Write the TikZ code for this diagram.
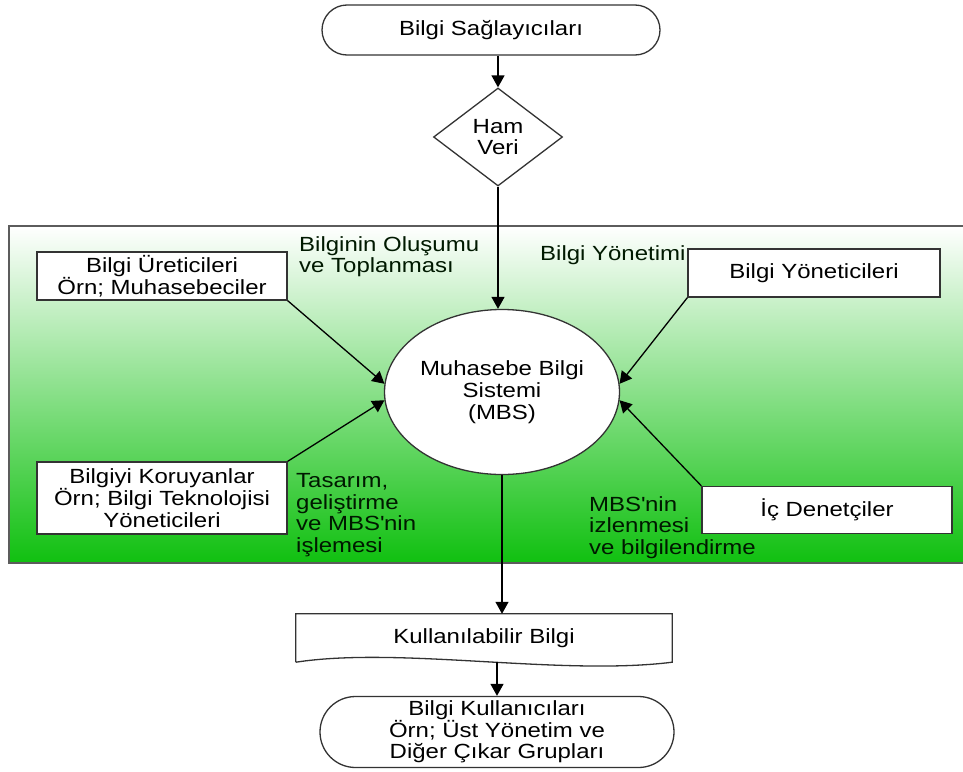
\documentclass[tikz,border=0pt]{standalone}
\usepackage{fontspec}
\setmainfont{Liberation Sans}[FakeStretch=1.17]
\usetikzlibrary{shapes.geometric,shapes.misc,arrows.meta}
\definecolor{yesil}{RGB}{16,192,16}
\definecolor{acikyesil}{RGB}{150,228,150}
\definecolor{cizgi}{RGB}{51,51,51}
\begin{document}
\begin{tikzpicture}[x=1pt,y=-1pt,
		font=\fontsize{20.5}{21.7}\selectfont,
		kutu/.style={rectangle,draw=cizgi,line width=1.3pt,fill=white,inner sep=2pt,align=center,minimum width=250pt},
		uc/.style={rounded rectangle,draw=cizgi,line width=1.3pt,fill=white,inner sep=2pt,align=center},
		etiket/.style={anchor=north west,align=left,inner sep=0pt,text=black!90!green},
		ok/.style={draw=black,line width=1.3pt,-{Triangle[length=12pt,width=13pt]}}]
		\useasboundingbox (0,0) rectangle (963,771);
		% yeşil alan
		\shade[top color=white,middle color=acikyesil,bottom color=yesil] (9,226) rectangle (963,563);
		\draw[cizgi!80,line width=1.5pt] (963,226) -- (9,226) -- (9,563) -- (963,563);
		% üst kısım
		\node[uc,minimum width=342pt,minimum height=50pt] (saglayici) at (491,30) {Bilgi Sağlayıcıları};
		\node[diamond,draw=cizgi,line width=1.3pt,fill=white,minimum width=129pt,minimum height=98pt,inner sep=0pt,align=center] (hamveri) at (498,137) {Ham\\Veri};
		\node[ellipse,draw=cizgi,line width=1.3pt,fill=white,minimum width=235pt,minimum height=165pt,inner sep=0pt,align=center] (mbs) at (502,392) {Muhasebe Bilgi\\Sistemi\\(MBS)};
		% kutular
		\node[kutu,minimum height=48pt] (uretici) at (162,276) {Bilgi Üreticileri\\Örn; Muhasebeciler};
		\node[kutu,minimum height=72pt] (koruyan) at (162,498) {Bilgiyi Koruyanlar\\Örn; Bilgi Teknolojisi\\Yöneticileri};
		\node[kutu,minimum width=252pt,minimum height=48pt] (yonetici) at (814,273) {Bilgi Yöneticileri};
		\node[kutu,minimum height=47pt] (denetci) at (827,510) {İç Denetçiler};
		\node[etiket] (olusum) at (299,236) {Bilginin Oluşumu\\ve Toplanması};
		\node[etiket,anchor=west] (yonetim) at (540,255) {Bilgi Yönetimi};
		\node[etiket] (tasarim) at (296,473) {Tasarım,\\geliştirme\\ve MBS\textquotesingle nin\\işlemesi};
		\node[etiket] (izleme) at (589,496) {MBS\textquotesingle nin\\izlenmesi\\ve bilgilendirme};
		% alt kısım
		\node[minimum width=376pt,minimum height=48pt,inner sep=0pt] (kb) at (484,638) {Kullanılabilir Bilgi};
		\draw[cizgi,line width=1.3pt] (kb.south west) -- (kb.north west) -- (kb.north east) -- (kb.south east)
			.. controls +(-112,14) and +(104,-16) .. (kb.south west);
		\node[uc,minimum width=358pt,minimum height=71pt] (kullanici) at (497,732) {Bilgi Kullanıcıları\\Örn; Üst Yönetim ve\\Diğer Çıkar Grupları};
		% oklar
		\draw[ok] (saglayici.south -| hamveri.north) -- (hamveri.north);
		\draw[ok] (hamveri.south) -- (hamveri.south |- mbs.north);
		\draw[ok] (uretici.south east) -- (mbs.176);
		\draw[ok] (koruyan.north east) -- (mbs.184);
		\draw[ok] (yonetici.south west) -- (mbs.4);
		\draw[ok] (denetci.north west) -- (mbs.-4);
		\draw[ok] (mbs.south) -- (mbs.south |- kb.north);
		\draw[ok] (kb.south -| kullanici.north) -- (kullanici.north);
	\end{tikzpicture}
\end{document}
